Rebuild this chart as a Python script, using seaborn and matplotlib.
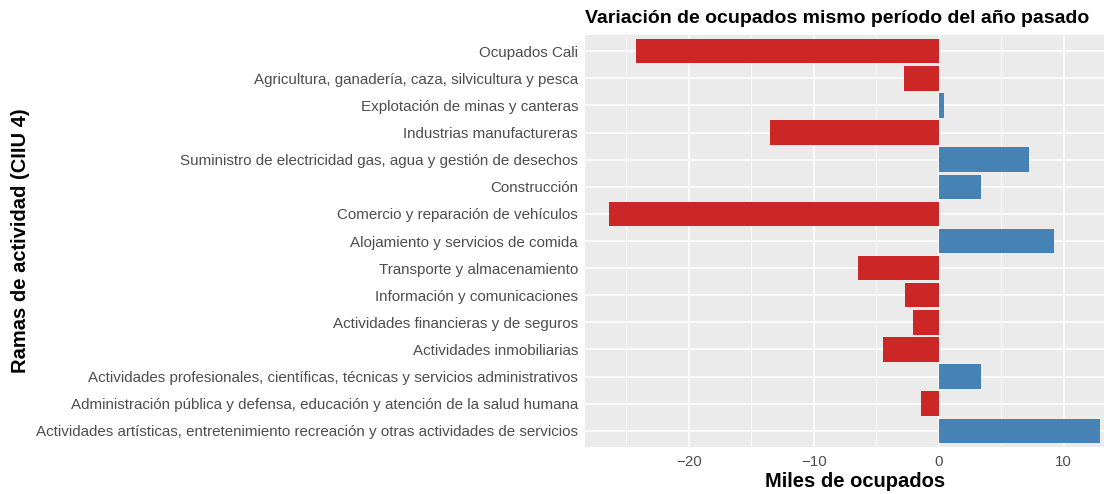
import matplotlib
matplotlib.use("Agg")
import matplotlib.pyplot as plt
import seaborn as sns
import pandas as pd
from matplotlib.ticker import MultipleLocator

categorias = [
    "Ocupados Cali",
    "Agricultura, ganadería, caza, silvicultura y pesca",
    "Explotación de minas y canteras",
    "Industrias manufactureras",
    "Suministro de electricidad gas, agua y gestión de desechos",
    "Construcción",
    "Comercio y reparación de vehículos",
    "Alojamiento y servicios de comida",
    "Transporte y almacenamiento",
    "Información y comunicaciones",
    "Actividades financieras y de seguros",
    "Actividades inmobiliarias",
    "Actividades profesionales, científicas, técnicas y servicios administrativos",
    "Administración pública y defensa, educación y atención de la salud humana",
    "Actividades artísticas, entretenimiento recreación y otras actividades de servicios",
]
variacion = [-24.2, -2.8, 0.45, -13.5, 7.2, 3.4, -26.4, 9.2, -6.5, -2.7, -2.1, -4.5, 3.35, -1.4, 12.9]

titulo = "Variación de ocupados mismo período del año pasado"
xlabel = "Miles de ocupados"
ylabel = "Ramas de actividad (CIIU 4)"

df = pd.DataFrame({"rama": categorias, "valor": variacion})
df["signo"] = ["neg" if v < 0 else "pos" for v in df["valor"]]

sns.set_style("darkgrid", {"axes.facecolor": "#EBEBEB", "grid.color": "white"})
plt.rcParams["font.family"] = ["Liberation Sans", "DejaVu Sans"]

W, H = 1104, 494
fig = plt.figure(figsize=(W / 100, H / 100), dpi=100)
left, right, top, bottom = 585, 1125, 35, 447
ax = fig.add_axes([left / W, 1 - bottom / H, (right - left) / W, (bottom - top) / H])

sns.barplot(data=df, x="valor", y="rama", hue="signo", order=categorias,
            palette={"neg": "#CD2626", "pos": "#4682B4"}, dodge=False,
            width=0.9, saturation=1, linewidth=0, legend=False, ax=ax, orient="h")

ax.set_xlim(-28.3, 14.9)
ax.set_ylim(len(categorias) - 0.4, -0.6)
ax.xaxis.set_major_locator(MultipleLocator(10))
ax.xaxis.set_minor_locator(MultipleLocator(5))
ax.grid(True, which="major", color="white", linewidth=1.1)
ax.grid(True, which="minor", axis="x", color="white", linewidth=0.55)
ax.set_axisbelow(True)
for s in ax.spines.values():
    s.set_visible(False)

ax.tick_params(axis="both", which="major", length=3, width=0.8, color="#333333",
               labelsize=10.9, labelcolor="#4D4D4D", pad=2)
ax.tick_params(axis="both", which="minor", length=0)
ax.tick_params(axis="x", pad=3)

ax.set_title(titulo, loc="left", fontsize=14, fontweight="bold", pad=9, color="black")
ax.set_xlabel(xlabel, fontsize=14.5, fontweight="bold", color="black", labelpad=2)
ax.set_ylabel(ylabel, fontsize=14.5, fontweight="bold", color="black")
ax.yaxis.set_label_coords((30 - left) / (right - left), 0.5)

fig.savefig("out.png", dpi=100)
